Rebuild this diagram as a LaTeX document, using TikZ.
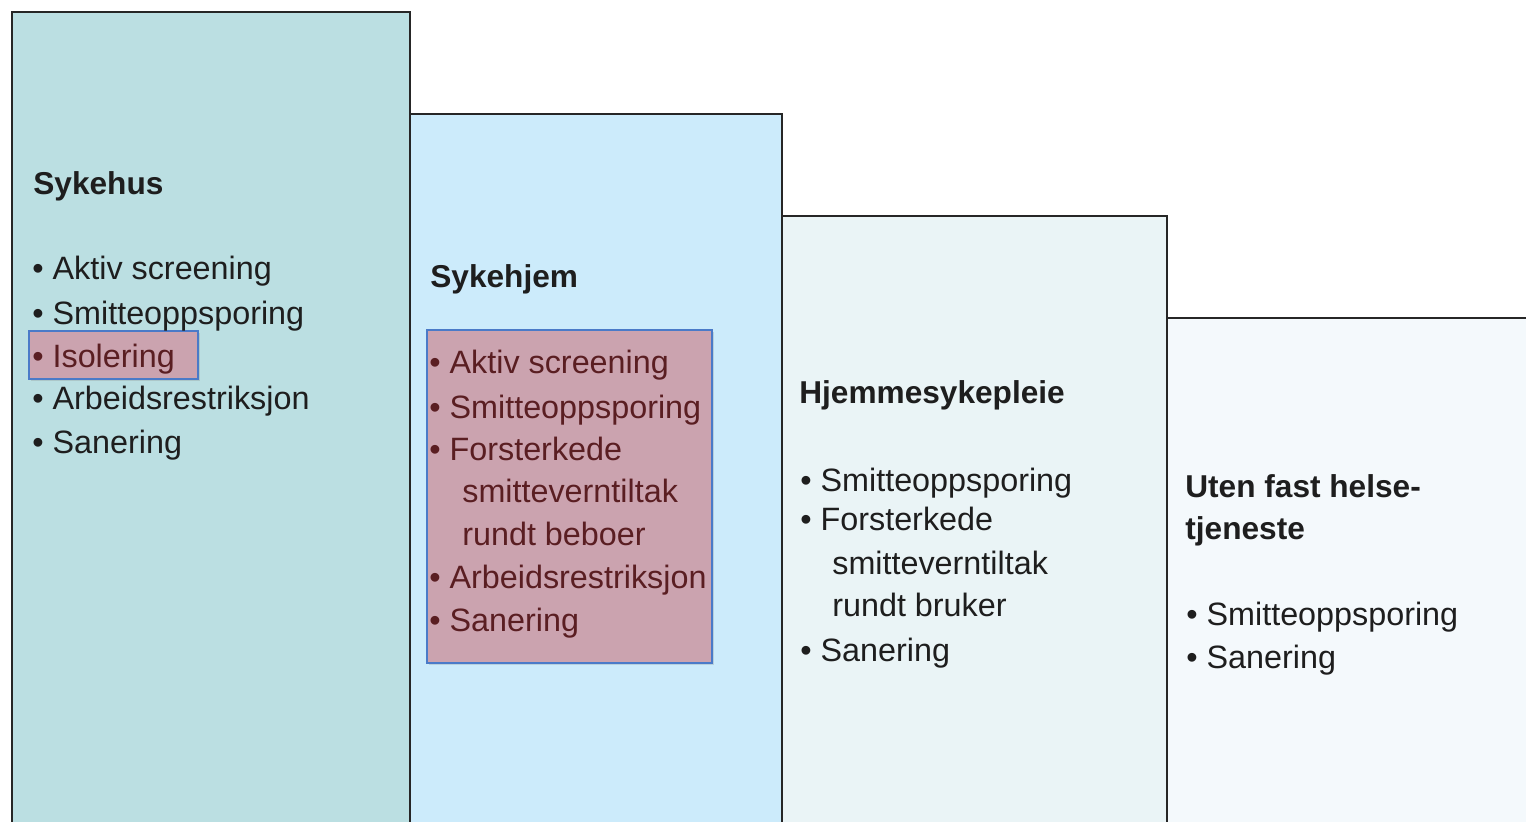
\documentclass[tikz,border=0pt]{standalone}
\usepackage{fontspec}
\setmainfont{Liberation Sans}
\usetikzlibrary{shadows}

\definecolor{sykehusfill}{HTML}{BBDFE2}
\definecolor{sykehjemfill}{HTML}{CCEBFB}
\definecolor{hjemmefill}{HTML}{EAF4F6}
\definecolor{utenfill}{HTML}{F4F9FC}
\definecolor{hlfill}{HTML}{CBA3AF}
\definecolor{hlborder}{HTML}{4A7AC8}
\definecolor{hltext}{HTML}{5A1E22}
\definecolor{txtdark}{HTML}{1E1E1E}

\begin{document}
\begin{tikzpicture}[x=0.02cm, y=-0.02cm,
  level/.style={draw=black!85, line width=0.9pt},
  hlbox/.style={fill=hlfill, draw=hlborder, line width=0.8pt,
    drop shadow={shadow xshift=1.2pt, shadow yshift=-1.2pt, opacity=0.25}},
  title/.style={anchor=base west, inner sep=0pt,
    font=\fontsize{18}{22}\selectfont\bfseries, text=txtdark},
  item/.style={anchor=base west, inner sep=0pt,
    font=\fontsize{18.4}{22}\selectfont, text=txtdark},
  hlitem/.style={item, text=hltext}]

\useasboundingbox (0,0) rectangle (1526,822);

% steps
\draw[level, fill=sykehusfill]  (12,12)   rectangle (410,840);
\draw[level, fill=sykehjemfill] (410,114) rectangle (782,840);
\draw[level, fill=hjemmefill]   (782,216) rectangle (1167,840);
\draw[level, fill=utenfill]     (1167,318) rectangle (1540,840);

% highlights
\draw[hlbox] (29,331) rectangle (198,379);
\draw[hlbox] (427,330) rectangle (712,663);

% sykehus
\node[title] (sh-t) at (33,194) {Sykehus};
\node[item] (sh-1) at (32,279) {\textbullet\ Aktiv screening};
\node[item] (sh-2) at (32,324) {\textbullet\ Smitteoppsporing};
\node[hlitem] (sh-3) at (32,367) {\textbullet\ Isolering};
\node[item] (sh-4) at (32,409) {\textbullet\ Arbeidsrestriksjon};
\node[item] (sh-5) at (32,453) {\textbullet\ Sanering};

% sykehjem
\node[title] (sj-t) at (430,287) {Sykehjem};
\node[hlitem] (sj-1) at (429,373) {\textbullet\ Aktiv screening};
\node[hlitem] (sj-2) at (429,418) {\textbullet\ Smitteoppsporing};
\node[hlitem] (sj-3) at (429,460) {\textbullet\ Forsterkede};
\node[hlitem] (sj-3b) at (462,502) {smitteverntiltak};
\node[hlitem] (sj-3c) at (462,545) {rundt beboer};
\node[hlitem] (sj-4) at (429,588) {\textbullet\ Arbeidsrestriksjon};
\node[hlitem] (sj-5) at (429,631) {\textbullet\ Sanering};

% hjemmesykepleie
\node[title] (hs-t) at (799,403) {Hjemmesykepleie};
\node[item] (hs-1) at (800,491) {\textbullet\ Smitteoppsporing};
\node[item] (hs-2) at (800,530) {\textbullet\ Forsterkede};
\node[item] (hs-2b) at (832,574) {smitteverntiltak};
\node[item] (hs-2c) at (832,616) {rundt bruker};
\node[item] (hs-3) at (800,661) {\textbullet\ Sanering};

% uten fast helsetjeneste
\node[title] (uf-t) at (1185,497) {Uten fast helse-};
\node[title] (uf-tb) at (1185,539) {tjeneste};
\node[item] (uf-1) at (1186,625) {\textbullet\ Smitteoppsporing};
\node[item] (uf-2) at (1186,668) {\textbullet\ Sanering};

\end{tikzpicture}
\end{document}
